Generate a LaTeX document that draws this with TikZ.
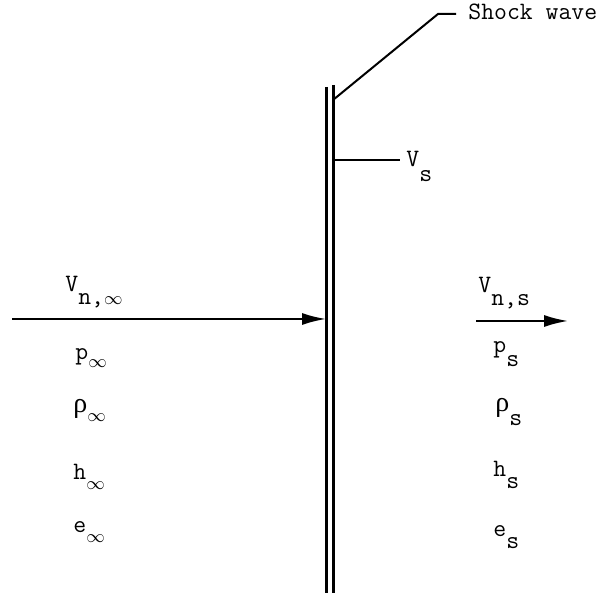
\documentclass[tikz,border=0pt]{standalone}
\usepackage{amsmath}
\usepackage{fontspec}
\usepackage{tikz}
\usetikzlibrary{positioning, arrows.meta}
\newfontfamily\greekfont{Liberation Serif}
\newcommand{\quant}[3][6.5pt]{#2\raisebox{-#1}{#3}}
\newcommand{\uprho}{{\greekfont\fontsize{14}{15}\selectfont ρ}}
\newcommand{\sinf}{$\scriptstyle\infty$}

\begin{document}
\begin{tikzpicture}[
    x=0.5pt, y=-0.5pt,
    lbl/.style={
        inner sep=0pt, anchor=base west,
        font=\fontsize{12.5}{15}\selectfont\ttfamily
    },
    front/.style={line width=1.5pt},
    lead/.style={line width=1pt},
    arrow/.style={-{Latex[length=12pt,width=6pt]}, line width=1pt}
]
\useasboundingbox (0,0) rectangle (606,597);

% The shock front: two close vertical lines
\coordinate (front_a_top) at (326,87);
\coordinate (front_a_bot) at (326,593);
\coordinate (front_b_top) at (333,85);
\coordinate (front_b_bot) at (333,593);
\draw[front] (front_a_top) -- (front_a_bot);
\draw[front] (front_b_top) -- (front_b_bot);

% Leader to the "Shock wave" label
\node[lbl] (shocklbl) at (468,20) {Shock wave};
\coordinate (front_lead) at (333,100);
\coordinate (lead_bend) at (438,14);
\draw[lead] (front_lead) -- (lead_bend) -- ([xshift=-6pt]shocklbl.west |- lead_bend);

% Velocity of the shock wave
\coordinate (front_vs) at (333,160);
\coordinate (vs_end) at (400,160);
\draw[lead] (front_vs) -- (vs_end);
\node[lbl] (vshock) at (406,167) {\quant[7.5pt]{V}{s}};

% Upstream side: flow entering the shock
\coordinate (inflow) at (12,319);
\coordinate (hit) at (326,319);
\draw[arrow] (inflow) -- (hit);
\node[lbl] (vn_inf) at (65,292) {\quant{V}{n,\sinf}};
\node[lbl] (p_inf) at (75,360) {\quant[4pt]{p}{\sinf}};
\node[lbl] (rho_inf) at (73,413) {\quant[4.5pt]{\uprho}{\sinf}};
\node[lbl] (h_inf) at (73,480) {\quant[5pt]{h}{\sinf}};
\node[lbl] (e_inf) at (73,533) {\quant[5pt]{e}{\sinf}};

% Downstream side: flow leaving the shock
\coordinate (outflow) at (476,321);
\coordinate (out_end) at (568,321);
\draw[arrow] (outflow) -- (out_end);
\node[lbl] (vn_s) at (478,293) {\quant{V}{n,s}};
\node[lbl] (p_s) at (493,353) {\quant[7pt]{p}{s}};
\node[lbl] (rho_s) at (495,412) {\quant[7pt]{\uprho}{s}};
\node[lbl] (h_s) at (493,477) {\quant[6pt]{h}{s}};
\node[lbl] (e_s) at (493,537) {\quant[6pt]{e}{s}};

\end{tikzpicture}
\end{document}
